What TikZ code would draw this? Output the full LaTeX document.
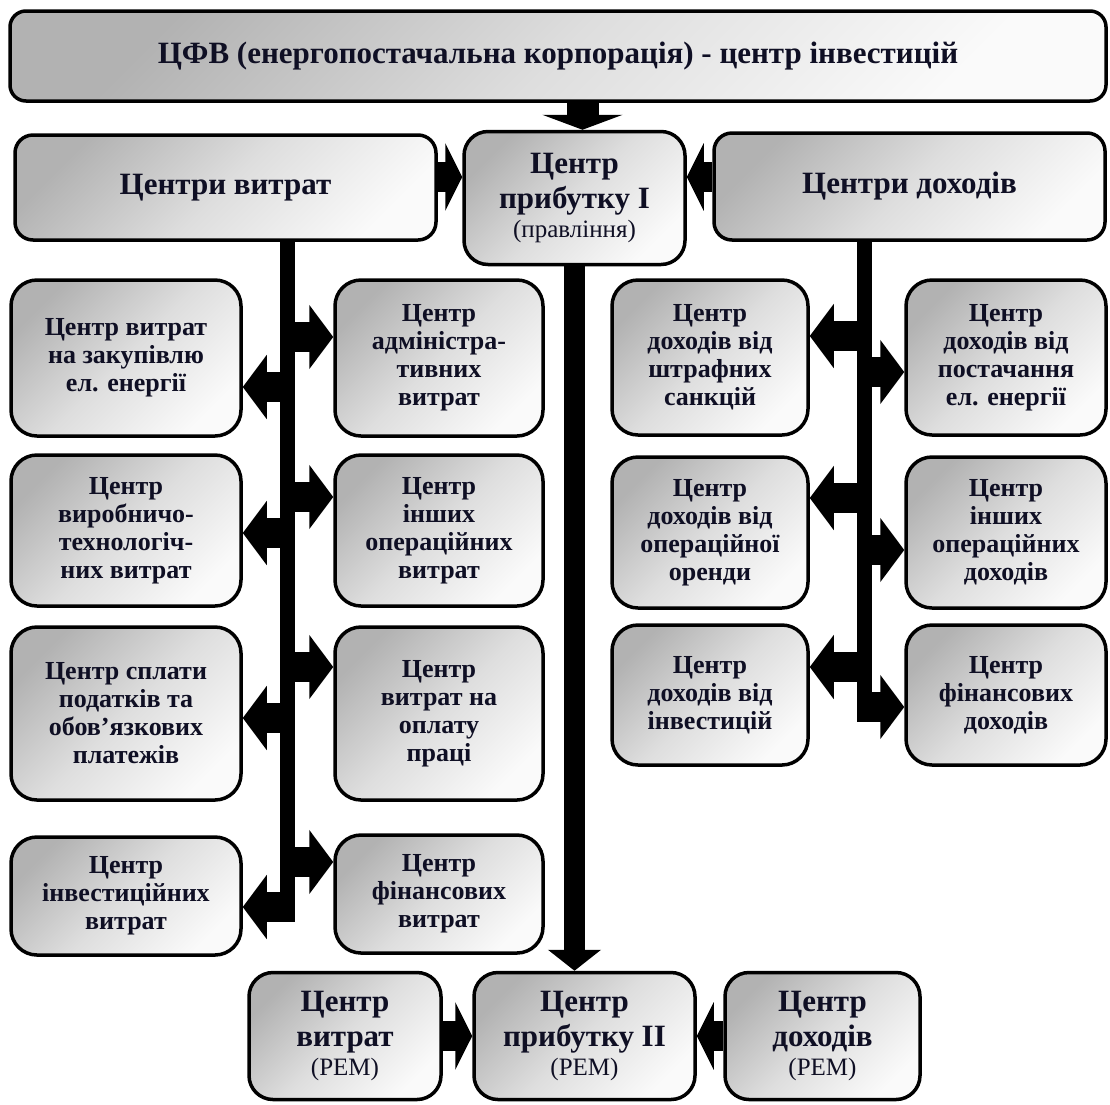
\documentclass[tikz,border=0pt]{standalone}
\usepackage{fontspec}
\setmainfont{Liberation Serif}
\usepackage{tikz}
\usetikzlibrary{arrows.meta,positioning,calc}

\definecolor{inkc}{rgb}{0.06,0.06,0.14}

\begin{document}
\begin{tikzpicture}[x=1pt,y=-1pt,
    box/.style={draw=black, line width=3.5pt, rounded corners=26pt, align=center, text=inkc,
        top color=black!30, bottom color=black!2, middle color=black!13, shading angle=45, inner sep=2pt,
        font=\bfseries\fontsize{26}{28}\selectfont},
    bigbox/.style={box, rounded corners=18pt, font=\bfseries\fontsize{31}{35}\selectfont},
    trunk/.style={line width=15pt},
    branch/.style={line width=30pt, -{Triangle[length=24pt,width=63pt]}},
    sidearrow/.style={line width=30pt, -{Triangle[length=17pt,width=67pt]}},
    toparrow/.style={line width=32pt, -{Triangle[length=15pt,width=80pt]}},
    downarrow/.style={line width=21pt, -{Triangle[length=21pt,width=52pt]}}]
    \useasboundingbox (0,0) rectangle (1110,1104);

    % upper level
    \node[bigbox, minimum width=1096pt, minimum height=90pt, rounded corners=16pt] (cfv) at (558,56)
        {ЦФВ (енергопостачальна корпорація) - центр інвестицій};
    \node[bigbox, minimum width=421pt, minimum height=105pt] (cv) at (225.5,187.5) {Центри витрат};
    \node[bigbox, minimum width=221pt, minimum height=133pt, rounded corners=24pt] (pr1) at (574.5,198)
        {Центр\\прибутку I\\[-6pt]{\mdseries\fontsize{25}{28}\selectfont(правління)}};
    \node[bigbox, minimum width=391pt, minimum height=107pt] (cd) at (909.5,186.5) {Центри доходів};

    % cost centres
    \node[box, minimum width=230pt, minimum height=156pt] (cv1) at (126,358) {Центр витрат\\на закупівлю\\ел. енергії};
    \node[box, minimum width=230pt, minimum height=151pt] (cv2) at (126,530.5) {Центр\\виробничо-\\технологіч-\\них витрат};
    \node[box, minimum width=230pt, minimum height=173pt] (cv3) at (126,713.5) {Центр сплати\\податків та\\обов’язкових\\платежів};
    \node[box, minimum width=230pt, minimum height=118pt] (cv4) at (126,896) {Центр\\інвестиційних\\витрат};
    \node[box, minimum width=208pt, minimum height=156pt] (cv5) at (439,358) {Центр\\адміністра-\\тивних\\витрат};
    \node[box, minimum width=208pt, minimum height=151pt] (cv6) at (439,530.5) {Центр\\інших\\операційних\\витрат};
    \node[box, minimum width=208pt, minimum height=173pt] (cv7) at (439,713.5) {Центр\\витрат на\\оплату\\праці};
    \node[box, minimum width=208pt, minimum height=118pt] (cv8) at (439,894) {Центр\\фінансових\\витрат};

    % income centres
    \node[box, minimum width=196pt, minimum height=155pt] (cd1) at (710,357.5) {Центр\\доходів від\\штрафних\\санкцій};
    \node[box, minimum width=196pt, minimum height=151pt] (cd2) at (710,532.5) {Центр\\доходів від\\операційної\\оренди};
    \node[box, minimum width=196pt, minimum height=140pt] (cd3) at (710,695) {Центр\\доходів від\\інвестицій};
    \node[box, minimum width=200pt, minimum height=155pt] (cd4) at (1006,357.5) {Центр\\доходів від\\постачання\\ел. енергії};
    \node[box, minimum width=200pt, minimum height=151pt] (cd5) at (1006,532.5) {Центр\\інших\\операційних\\доходів};
    \node[box, minimum width=200pt, minimum height=140pt] (cd6) at (1006,695) {Центр\\фінансових\\доходів};

    % lower level (РЕМ)
    \node[bigbox, minimum width=192pt, minimum height=127pt, rounded corners=24pt] (rv) at (345,1036)
        {Центр\\витрат\\[-6pt]{\mdseries\fontsize{25}{28}\selectfont(РЕМ)}};
    \node[bigbox, minimum width=221pt, minimum height=127pt, rounded corners=24pt] (pr2) at (584.5,1036)
        {Центр\\прибутку II\\[-6pt]{\mdseries\fontsize{25}{28}\selectfont(РЕМ)}};
    \node[bigbox, minimum width=195pt, minimum height=127pt, rounded corners=24pt] (rd) at (822.5,1036)
        {Центр\\доходів\\[-6pt]{\mdseries\fontsize{25}{28}\selectfont(РЕМ)}};

    % trunks
    \coordinate (tv) at (287.5,240);
    \coordinate (td) at (864,240);
    \draw[trunk] (tv) -- ++(0,682);
    \draw[trunk] (td) -- ++(0,482);

    % arrows to profit centre I
    \draw[toparrow] ([xshift=8pt]pr1.north |- cfv.south) -- ([xshift=8pt]pr1.north);
    \draw[sidearrow] (cv.east |- 0,177) -- (pr1.west |- 0,177);
    \draw[sidearrow] (cd.west |- 0,177) -- (pr1.east |- 0,177);

    % cost branches
    \draw[branch] (tv |- 0,337) -- (cv5.west |- 0,337);
    \draw[branch] (tv |- 0,387) -- (cv1.east |- 0,387);
    \draw[branch] (tv |- 0,497) -- (cv6.west |- 0,497);
    \draw[branch] (tv |- 0,533) -- (cv2.east |- 0,533);
    \draw[branch] (tv |- 0,667) -- (cv7.west |- 0,667);
    \draw[branch] (tv |- 0,718) -- (cv3.east |- 0,718);
    \draw[branch] (tv |- 0,862) -- (cv8.west |- 0,862);
    \draw[branch] (tv |- 0,907) -- (cv4.east |- 0,907);

    % income branches
    \draw[branch] (td |- 0,336) -- (cd1.east |- 0,336);
    \draw[branch] (td |- 0,372) -- (cd4.west |- 0,372);
    \draw[branch] (td |- 0,498) -- (cd2.east |- 0,498);
    \draw[branch] (td |- 0,550) -- (cd5.west |- 0,550);
    \draw[branch] (td |- 0,667) -- (cd3.east |- 0,667);
    \draw[branch] (td |- 0,707) -- (cd6.west |- 0,707);

    % lower level
    \draw[downarrow] (pr1.south) -- (pr1.south |- pr2.north);
    \draw[sidearrow] (rv.east) -- (pr2.west);
    \draw[sidearrow] (rd.west) -- (pr2.east);
\end{tikzpicture}
\end{document}
